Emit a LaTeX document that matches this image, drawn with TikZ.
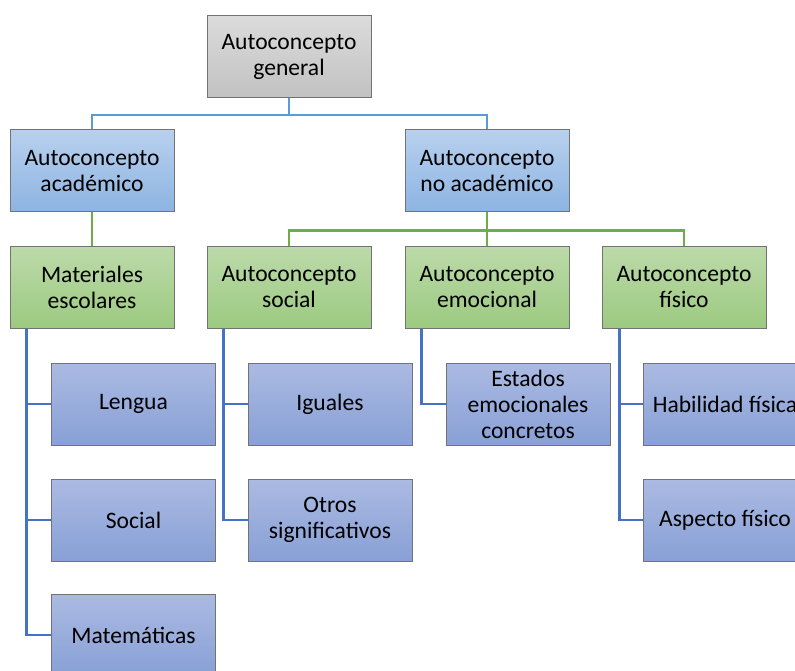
\documentclass[tikz,border=0pt]{standalone}
\usepackage{fontspec}
\setmainfont{Carlito}
\begin{document}
\begin{tikzpicture}[x=1pt,y=-1pt,
  box/.style={draw=black!55,line width=1pt,minimum width=164pt,minimum height=82pt,inner sep=0pt,
    align=center,font=\fontsize{23.6}{26}\selectfont,text=black},
  graybox/.style={box,top color=gray!28,bottom color=gray!48},
  bluebox/.style={box,top color={rgb,255:red,184;green,208;blue,238},bottom color={rgb,255:red,141;green,180;blue,226}},
  greenbox/.style={box,top color={rgb,255:red,188;green,218;blue,170},bottom color={rgb,255:red,156;green,202;blue,128}},
  purplebox/.style={box,top color={rgb,255:red,171;green,186;blue,226},bottom color={rgb,255:red,136;green,160;blue,214}},
  bline/.style={draw={rgb,255:red,91;green,155;blue,213},line width=2.6pt},
  gline/.style={draw={rgb,255:red,112;green,173;blue,71},line width=2.6pt},
  dline/.style={draw={rgb,255:red,68;green,114;blue,196},line width=2.8pt}]
\useasboundingbox (0,0) rectangle (795,671);
\clip (0,0) rectangle (795,671);
\node[graybox] (gen) at (289,56.5) {Autoconcepto\\general};
\node[bluebox] (acad) at (92,171) {Autoconcepto\\académico};
\node[bluebox] (noac) at (487,171) {Autoconcepto\\no académico};
\node[greenbox] (mat) at (92,287) {Materiales\\escolares};
\node[greenbox] (soc) at (289,287) {Autoconcepto\\social};
\node[greenbox] (emo) at (487,287) {Autoconcepto\\emocional};
\node[greenbox] (fis) at (684,287) {Autoconcepto\\físico};
\node[purplebox] (len) at (133.5,404) {Lengua};
\node[purplebox] (socl) at (133.5,520) {Social};
\node[purplebox] (mate) at (133.5,635) {Matemáticas};
\node[purplebox] (igu) at (330,404) {Iguales};
\node[purplebox] (otr) at (330,520) {Otros\\significativos};
\node[purplebox] (est) at (528,404) {Estados\\emocionales\\concretos};
\node[purplebox] (hab) at (725,404) {Habilidad física};
\node[purplebox] (asp) at (725,520) {Aspecto físico};
\draw[bline] (gen.south) -- ++(0,17) -| (acad.north);
\draw[bline] (gen.south) -- ++(0,17) -| (noac.north);
\draw[gline] (acad.south) -- (mat.north);
\draw[gline] (noac.south) -- ++(0,18) -| (soc.north);
\draw[gline] (noac.south) -- ++(0,18) -| (emo.north);
\draw[gline] (noac.south) -- ++(0,18) -| (fis.north);
\draw[dline] ([xshift=17pt]mat.south west) |- (len.west);
\draw[dline] ([xshift=17pt]mat.south west) |- (socl.west);
\draw[dline] ([xshift=17pt]mat.south west) |- (mate.west);
\draw[dline] ([xshift=17pt]soc.south west) |- (igu.west);
\draw[dline] ([xshift=17pt]soc.south west) |- (otr.west);
\draw[dline] ([xshift=17pt]emo.south west) |- (est.west);
\draw[dline] ([xshift=18pt]fis.south west) |- (hab.west);
\draw[dline] ([xshift=18pt]fis.south west) |- (asp.west);
\end{tikzpicture}
\end{document}
